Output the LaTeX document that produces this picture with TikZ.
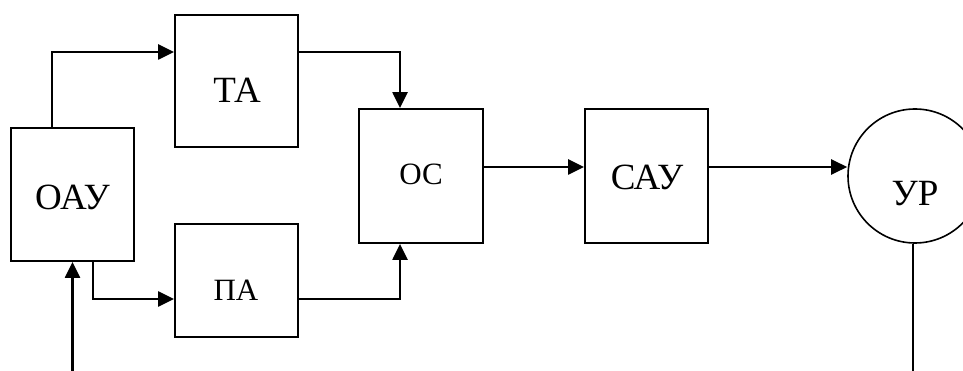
\documentclass[tikz,border=0pt]{standalone}
\usepackage{fontspec}
\setmainfont{Liberation Serif}
\usetikzlibrary{arrows.meta}
\begin{document}
\begin{tikzpicture}[x=1pt,y=1pt,
  blk/.style={draw,line width=1.8pt,inner sep=0pt,minimum width=123pt},
  txt/.style={inner sep=0pt,font=\fontsize{37}{37}\selectfont},
  stxt/.style={inner sep=0pt,font=\fontsize{31}{31}\selectfont},
  arr/.style={line width=2.3pt,-{Triangle[length=16pt,width=15pt]}},
  ln/.style={line width=1.7pt}]
\useasboundingbox (0,0) rectangle (963,-371);
\node[blk,minimum height=133pt] (oau) at (72.5,-194.5) {};
\node[blk,minimum height=132pt] (ta) at (236.5,-81) {};
\node[blk,minimum height=113pt] (pa) at (236.5,-280.5) {};
\node[blk,minimum width=124pt,minimum height=134pt] (os) at (421,-176) {};
\node[blk,minimum height=134pt] (sau) at (646.5,-176) {};
\node[draw,circle,line width=1.6pt,inner sep=0pt,minimum size=134pt] (ur) at (915,-176) {};
\node[txt] (toau) at (72.5,-197) {ОАУ};
\node[txt] (tta) at (237,-90.5) {ТА};
\node[stxt] (tpa) at (236,-290) {ПА};
\node[stxt] (tos) at (421,-174.5) {ОС};
\node[txt] (tsau) at (647,-177.5) {САУ};
\node[txt] (tur) at (915,-194) {УР};
\coordinate (in) at (72.5,-371);
\coordinate (bot) at (0,-371);
\draw[arr] ([xshift=-20.5pt]oau.north) |- ([yshift=29pt]ta.west);
\draw[arr] ([xshift=20.5pt]oau.south) |- ([yshift=-18.5pt]pa.west);
\draw[arr] (in) -- (oau.south);
\draw[arr] ([yshift=29pt]ta.east) -| ([xshift=-21pt]os.north);
\draw[arr] ([yshift=-18.5pt]pa.east) -| ([xshift=-21pt]os.south);
\draw[arr] ([yshift=9pt]os.east) -- ([yshift=9pt]sau.west);
\draw[arr] ([yshift=9pt]sau.east) -- ([yshift=9pt]sau.east -| ur.west);
\draw[ln] ([xshift=-2pt]ur.south) -- ([xshift=-2pt]ur.south |- bot);
\end{tikzpicture}
\end{document}
